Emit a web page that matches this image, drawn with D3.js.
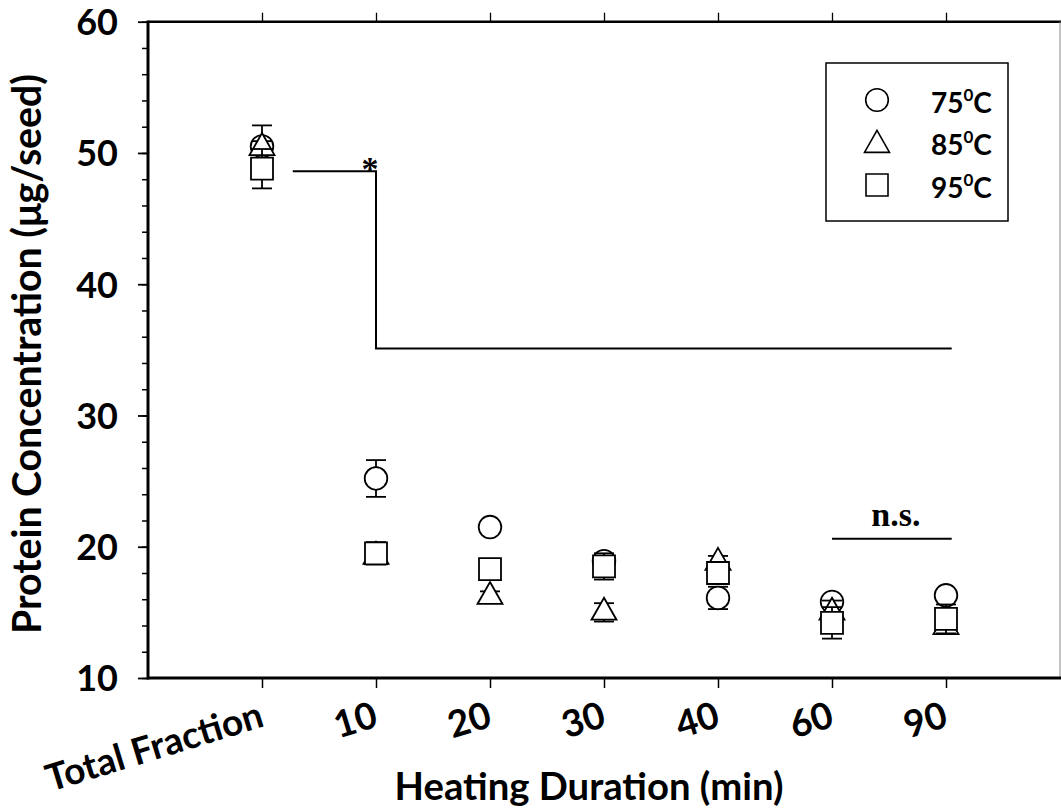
<!DOCTYPE html>
<html>
<head>
<meta charset="utf-8">
<script src="https://cdn.jsdelivr.net/npm/d3@7"></script>
<style>
  html, body { margin: 0; padding: 0; background: #fff; }
  svg { display: block; }
  text { font-family: "Lato", "Open Sans", sans-serif; font-weight: bold; fill: #000; }
  .serif { font-family: "Liberation Serif", "DejaVu Serif", serif; }
</style>
</head>
<body>
<svg id="chart" width="1061" height="812"></svg>
<script>
// Heating time points (first point is the unheated total fraction)
const categories = ["Total Fraction", "10", "20", "30", "40", "60", "90"];

// Protein concentration (µg/seed) per heating temperature
const temps = ["75", "85", "95"];
const conc75 = [50.5, 25.2, 21.5, 18.9, 16.1, 15.8, 16.3];
const conc85 = [50.4, 19.25, 16.2, 15.0, 18.8, 15.0, 13.9];
const conc95 = [48.8, 19.5, 18.3, 18.5, 18.0, 14.2, 14.5];

// Error bar half-widths
const err75 = [1.6, 1.4, 0.2, 0.2, 0.85, 0.3, 0.2];
const err85 = [0.5, 0.3, 0.4, 0.7, 0.5, 0.9, 0.3];
const err95 = [1.5, 0.85, 0.3, 1.0, 0.3, 1.2, 1.1];

// Y axis ticks
const yMajorTicks = [10, 20, 30, 40, 50, 60];
const yMinorTicks = d3.range(10, 61, 2);

// Significance annotations (x in category-position units, y in µg/seed)
const sigStep = [[1.27, 48.6], [2, 48.6], [2, 35.1], [7.05, 35.1]];
const nsLine = [[6, 20.6], [7.05, 20.6]];

const svg = d3.select("#chart");
const plotLeft = 148, plotRight = 1060, plotTop = 21.7, plotBottom = 678;

const x = d3.scaleLinear().domain([0, categories.length + 1]).range([plotLeft, plotRight]);
const y = d3.scaleLinear().domain([10, 60]).range([plotBottom, plotTop]);

// ---- axes ----
const yMinor = svg.append("g").attr("transform", `translate(${plotLeft},0)`)
  .call(d3.axisLeft(y).tickValues(yMinorTicks).tickSize(6).tickFormat(""));
yMinor.select(".domain").remove();
yMinor.selectAll(".tick line").attr("stroke-width", 1.5);

const yAxis = svg.append("g").attr("transform", `translate(${plotLeft},0)`)
  .call(d3.axisLeft(y).tickValues(yMajorTicks).tickSize(10).tickPadding(20));
yAxis.select(".domain").remove();
yAxis.selectAll(".tick line").attr("stroke-width", 1.8);
yAxis.selectAll(".tick text").attr("font-size", 36).attr("dy", "0.36em")
  .style("font-family", "Lato, 'Open Sans', sans-serif").style("font-weight", "bold");

const xAxis = svg.append("g").attr("transform", `translate(0,${plotBottom})`)
  .call(d3.axisBottom(x).tickValues(d3.range(1, categories.length + 1))
    .tickFormat(i => categories[i - 1]).tickSize(10));
xAxis.select(".domain").remove();
xAxis.selectAll(".tick line").attr("stroke-width", 1.5);
xAxis.selectAll(".tick text")
  .attr("font-size", 37)
  .attr("text-anchor", "end")
  .attr("x", 0).attr("dy", 0).attr("y", 0)
  .attr("transform", "translate(3,48) rotate(-17)")
  .style("font-family", "Lato, 'Open Sans', sans-serif").style("font-weight", "bold");

const xTop = svg.append("g").attr("transform", `translate(0,${plotTop})`)
  .call(d3.axisTop(x).tickValues(d3.range(1, categories.length + 1)).tickSize(9).tickFormat(""));
xTop.select(".domain").remove();
xTop.selectAll(".tick line").attr("stroke-width", 1.3);

// ---- frame ----
svg.append("line").attr("x1", plotLeft).attr("x2", 1061).attr("y1", plotTop).attr("y2", plotTop)
  .attr("stroke", "#000").attr("stroke-width", 2.6);
svg.append("line").attr("x1", plotRight).attr("x2", plotRight).attr("y1", plotTop).attr("y2", plotBottom)
  .attr("stroke", "#888").attr("stroke-width", 1);
svg.append("line").attr("x1", plotLeft).attr("x2", 1061).attr("y1", plotBottom).attr("y2", plotBottom)
  .attr("stroke", "#000").attr("stroke-width", 3);
svg.append("line").attr("x1", plotLeft).attr("x2", plotLeft).attr("y1", plotTop - 1.3).attr("y2", plotBottom + 1.5)
  .attr("stroke", "#000").attr("stroke-width", 3);

// ---- markers ----
function markerPath(shape) {
  if (shape === "circle") {
    const r = 11.3;
    return `M${-r},0A${r},${r} 0 1,0 ${r},0A${r},${r} 0 1,0 ${-r},0Z`;
  }
  if (shape === "triangle") {
    const w = 25, h = 22;
    return `M0,${-2 * h / 3}L${w / 2},${h / 3}L${-w / 2},${h / 3}Z`;
  }
  const s = 11;
  return `M${-s},${-s}H${s}V${s}H${-s}Z`;
}

const series = [
  { temp: temps[0], shape: "circle", values: conc75, errors: err75 },
  { temp: temps[1], shape: "triangle", values: conc85, errors: err85 },
  { temp: temps[2], shape: "square", values: conc95, errors: err95 }
];

const plot = svg.append("g");
series.forEach(s => {
  const g = plot.append("g");
  s.values.forEach((v, i) => {
    const cx = x(i + 1), e = s.errors[i];
    const eb = g.append("g").attr("stroke", "#000").attr("stroke-width", 1.8);
    eb.append("line").attr("x1", cx).attr("x2", cx).attr("y1", y(v - e)).attr("y2", y(v + e));
    [v - e, v + e].forEach(ev => {
      eb.append("line").attr("x1", cx - 10).attr("x2", cx + 10).attr("y1", y(ev)).attr("y2", y(ev));
    });
    g.append("path").attr("d", markerPath(s.shape))
      .attr("transform", `translate(${cx},${y(v)})`)
      .attr("fill", "#fff").attr("stroke", "#000").attr("stroke-width", 1.8);
  });
});

// ---- significance annotations ----
const line = d3.line().x(d => x(d[0])).y(d => y(d[1]));
svg.append("path").attr("d", line(sigStep)).attr("fill", "none")
  .attr("stroke", "#000").attr("stroke-width", 2);
svg.append("text").attr("class", "serif").attr("x", x(2) - 6).attr("y", y(48.6) + 9)
  .attr("text-anchor", "middle").attr("font-size", 34).text("*");

svg.append("path").attr("d", line(nsLine)).attr("fill", "none")
  .attr("stroke", "#000").attr("stroke-width", 2);
svg.append("text").attr("class", "serif").attr("x", x(6.56)).attr("y", y(20.6) - 13)
  .attr("text-anchor", "middle").attr("font-size", 34).text("n.s.");

// ---- legend ----
const legend = svg.append("g");
legend.append("rect").attr("x", 826).attr("y", 63).attr("width", 182).attr("height", 158)
  .attr("fill", "#fff").attr("stroke", "#000").attr("stroke-width", 1.5);
const rowY = [100, 142, 185];
series.forEach((s, i) => {
  legend.append("path").attr("d", markerPath(s.shape))
    .attr("transform", `translate(877,${rowY[i] + (s.shape === "triangle" ? 3 : 0)})`)
    .attr("fill", "#fff").attr("stroke", "#000").attr("stroke-width", 1.6);
  const t = legend.append("text").attr("x", 931).attr("y", rowY[i] + 13).attr("font-size", 28);
  t.append("tspan").text(s.temp);
  t.append("tspan").attr("font-size", 17).attr("dy", -12).text("0");
  t.append("tspan").attr("dy", 12).text("C");
});

// ---- axis titles ----
function fitText(sel, target) {
  const len = sel.node().getComputedTextLength();
  const fs = parseFloat(sel.attr("font-size"));
  sel.attr("font-size", fs * target / len);
}
const xTitle = svg.append("text").attr("x", 589).attr("y", 800)
  .attr("text-anchor", "middle").attr("font-size", 36).text("Heating Duration (min)");
fitText(xTitle, 389);

const yTitle = svg.append("text").attr("transform", "translate(41,354) rotate(-90)")
  .attr("text-anchor", "middle").attr("font-size", 36).text("Protein Concentration (\u03bcg/seed)");
fitText(yTitle, 560);
</script>
</body>
</html>
